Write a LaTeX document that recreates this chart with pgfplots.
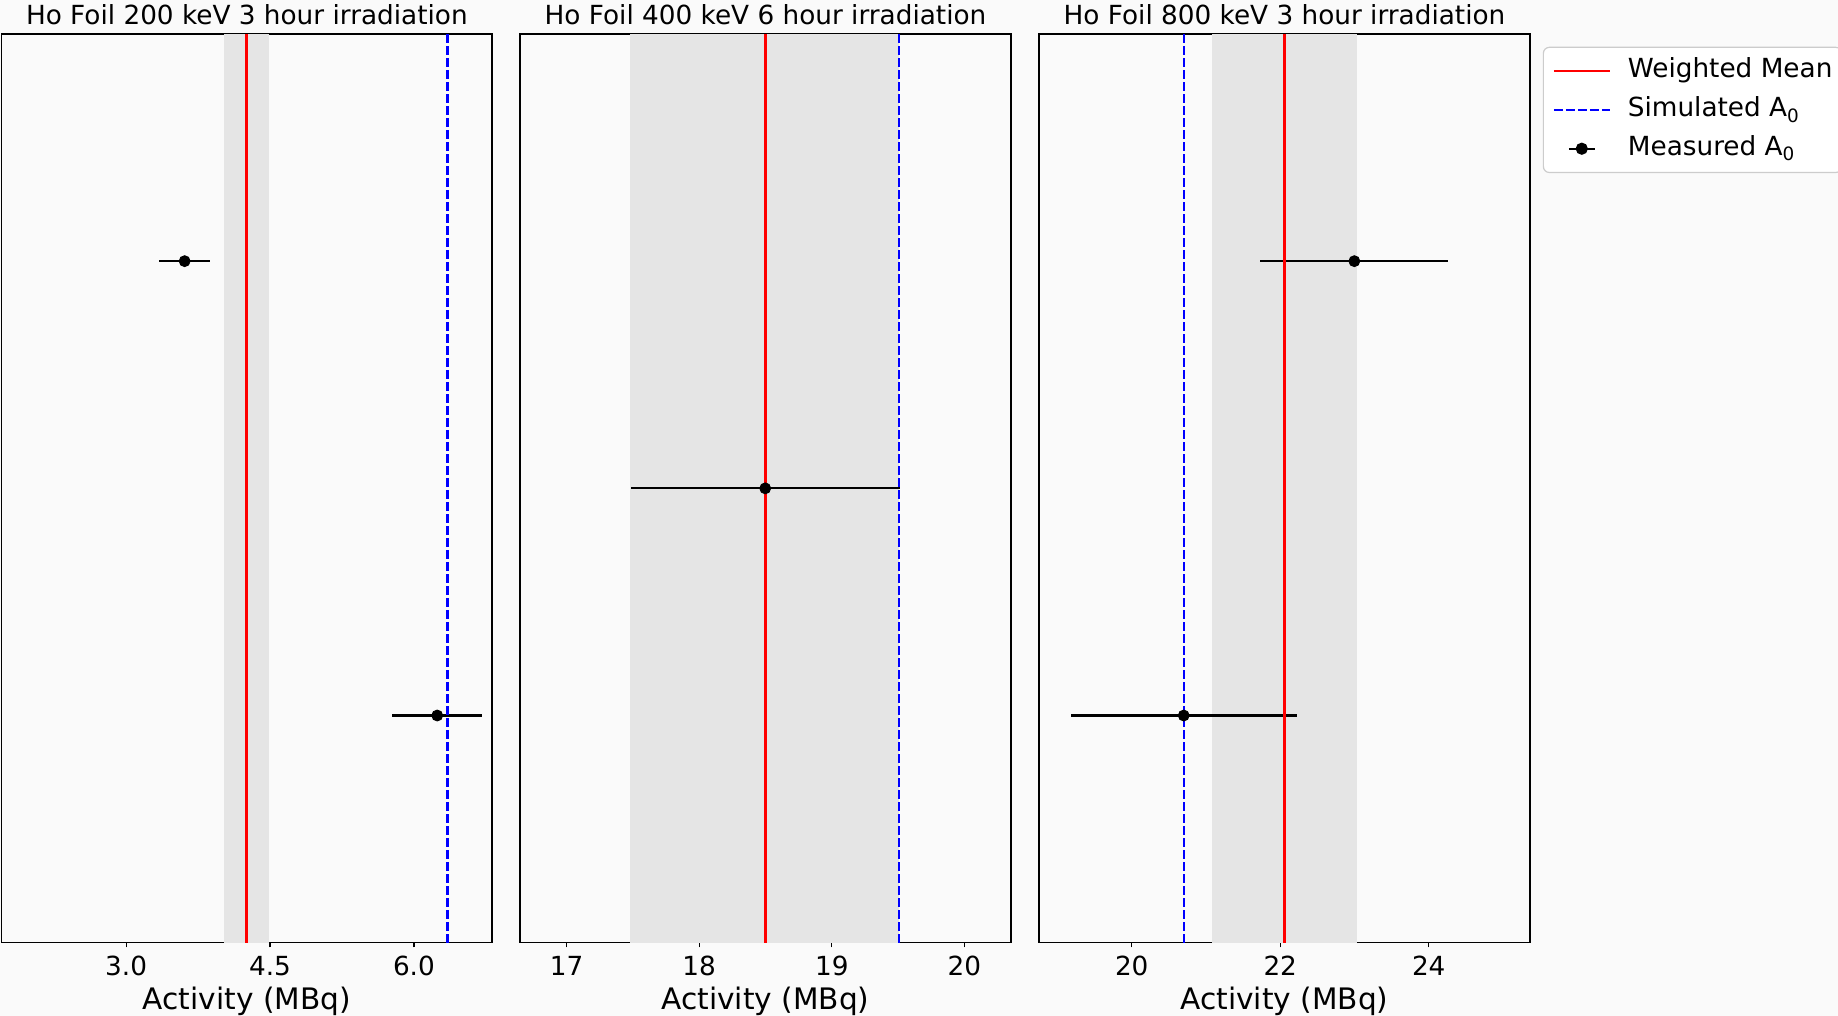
\documentclass[border=0pt]{standalone}
\usepackage{fontspec}
\setmainfont{DejaVu Sans}
\usepackage{pgfplots}
\pgfplotsset{compat=1.18}
\definecolor{figbg}{HTML}{FAFAFA}
\definecolor{bandgray}{HTML}{E5E5E5}
\definecolor{legedge}{HTML}{CCCCCC}
\pgfplotsset{
  panel/.style={
    scale only axis, width=245.5pt, height=454.35pt,
    axis line style={black, line width=0.6pt},
    ytick=\empty,
    xtick pos=left, tick align=outside,
    major tick length=2.35pt,
    tick style={black, line width=0.6pt},
    /pgf/number format/assume math mode=true,
    tick label style={font=\fontsize{13.15}{15}\selectfont},
    xticklabel style={anchor=base, yshift=-13.9pt},
    title style={font=\fontsize{13.15}{15}\selectfont, at={(0.5,1)}, anchor=base, yshift=-1.5pt},
    xlabel style={font=\fontsize{14.8}{17}\selectfont, at={(axis description cs:0.5,0)}, anchor=base, yshift=-33.6pt},
    xlabel={Activity (MBq)},
    ymin=-0.5, ymax=1.5,
  },
  meanline/.style={forget plot, red, line width=1.3pt},
  simline/.style={forget plot, blue, line width=1.15pt, dash pattern=on 4.3pt off 1.7pt},
  bandfill/.style={forget plot, fill=bandgray, draw=none},
  ebar/.style={forget plot, only marks, mark=none, error bars/.cd, x dir=both, x explicit, error mark=none, error bar style={black, line width=1.1pt, solid}},
  pts/.style={forget plot, only marks, mark=*, mark size=2.75pt, black},
}
\begin{document}
\begin{tikzpicture}
\fill[figbg] (0,0) rectangle (919pt,508pt);
% Panel 1
\begin{axis}[panel, at={(0.85pt,36.65pt)}, anchor=south west, width=245.15pt,
  title={Ho Foil 200 keV 3 hour irradiation},
  xmin=1.703, xmax=6.814,
  xtick={3,4.5,6}, xticklabels={3.0,4.5,6.0}]
\addplot[bandfill] coordinates {(4.02,-0.5) (4.485,-0.5) (4.485,1.5) (4.02,1.5)} -- cycle;
\addplot[ebar] coordinates {(3.61,1) +- (0.265,0) (6.243,0) +- (0.47,0)};
\addplot[meanline] coordinates {(4.253,-0.5) (4.253,1.5)};
\addplot[simline] coordinates {(6.35,-0.5) (6.35,1.5)};
\addplot[pts] coordinates {(3.61,1) (6.243,0)};
\end{axis}
% Panel 2
\begin{axis}[panel, at={(260pt,36.65pt)}, anchor=south west,
  title={Ho Foil 400 keV 6 hour irradiation},
  xmin=16.648, xmax=20.352, ymin=-0.5, ymax=0.5,
  xtick={17,18,19,20}]
\addplot[bandfill] coordinates {(17.48,-0.5) (19.51,-0.5) (19.51,0.5) (17.48,0.5)} -- cycle;
\addplot[ebar] coordinates {(18.498,0) +- (1.015,0)};
\addplot[meanline] coordinates {(18.5,-0.5) (18.5,0.5)};
\addplot[simline] coordinates {(19.505,-0.5) (19.505,0.5)};
\addplot[pts] coordinates {(18.498,0)};
\end{axis}
% Panel 3
\begin{axis}[panel, at={(519.5pt,36.65pt)}, anchor=south west,
  title={Ho Foil 800 keV 3 hour irradiation},
  xmin=18.751, xmax=25.364,
  xtick={20,22,24},
  legend style={at={(1.026,0.986)}, anchor=north west, draw=legedge, fill=white,
    rounded corners=3pt, line width=0.6pt, font=\fontsize{13.15}{15}\selectfont,
    inner xsep=4.65pt, inner ysep=5.3pt, row sep=6.2pt,
    nodes={inner sep=0pt, text height=10pt, text depth=3.2pt},
    /tikz/every odd column/.append style={column sep=8.5pt}},
  legend cell align=left]
\addplot[bandfill] coordinates {(21.077,-0.5) (23.039,-0.5) (23.039,1.5) (21.077,1.5)} -- cycle;
\addplot[ebar] coordinates {(22.998,1) +- (1.268,0) (20.70,0) +- (1.522,0)};
\addplot[meanline] coordinates {(22.055,-0.5) (22.055,1.5)};
\addplot[simline] coordinates {(20.70,-0.5) (20.70,1.5)};
\addplot[pts] coordinates {(22.998,1) (20.70,0)};
\addlegendimage{legend image code/.code={\draw[red, line width=1.3pt] (0pt,0pt) -- (27.8pt,0pt);}}
\addlegendentry{Weighted Mean}
\addlegendimage{legend image code/.code={\draw[blue, line width=1.15pt, dash pattern=on 4.3pt off 1.7pt] (0pt,0pt) -- (27.8pt,0pt);}}
\addlegendentry{Simulated A\textsubscript{0}}
\addlegendimage{legend image code/.code={\draw[black, line width=1.1pt] (7.4pt,0pt) -- (20.4pt,0pt); \fill[black] (13.9pt,0pt) circle (2.75pt);}}
\addlegendentry{Measured A\textsubscript{0}}
\end{axis}
\pgfresetboundingbox
\useasboundingbox (0,0) rectangle (919pt,508pt);
\end{tikzpicture}
\end{document}
